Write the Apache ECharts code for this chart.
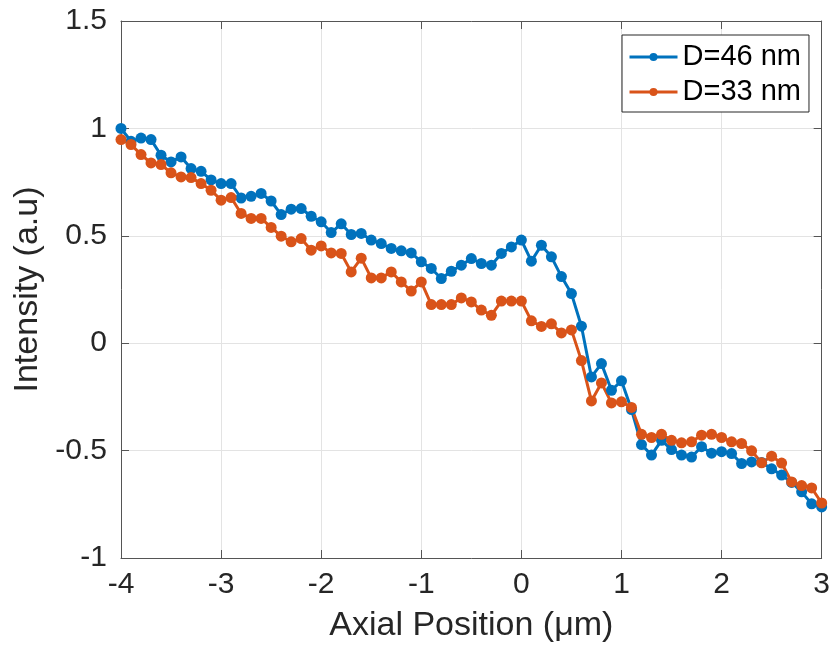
<!DOCTYPE html>
<html>
<head>
<meta charset="utf-8">
<script src="https://cdn.jsdelivr.net/npm/echarts@6/dist/echarts.min.js"></script>
<style>
  html, body { margin: 0; padding: 0; background: #fff; }
  #chart { width: 833px; height: 651px; }
</style>
</head>
<body>
<div id="chart"></div>
<script>
// axial position (um)
var positions = [
  -4.0, -3.9, -3.8, -3.7, -3.6, -3.5, -3.4, -3.3, -3.2, -3.1,
  -3.0, -2.9, -2.8, -2.7, -2.6, -2.5, -2.4, -2.3, -2.2, -2.1,
  -2.0, -1.9, -1.8, -1.7, -1.6, -1.5, -1.4, -1.3, -1.2, -1.1,
  -1.0, -0.9, -0.8, -0.7, -0.6, -0.5, -0.4, -0.3, -0.2, -0.1,
   0.0,  0.1,  0.2,  0.3,  0.4,  0.5,  0.6,  0.7,  0.8,  0.9,
   1.0,  1.1,  1.2,  1.3,  1.4,  1.5,  1.6,  1.7,  1.8,  1.9,
   2.0,  2.1,  2.2,  2.3,  2.4,  2.5,  2.6,  2.7,  2.8,  2.9,
   3.0
];

// D=46 nm
var d46 = [
  1.00, 0.94, 0.955, 0.948, 0.875, 0.844, 0.867, 0.813, 0.80, 0.76,
  0.743, 0.743, 0.676, 0.684, 0.697, 0.662, 0.599, 0.624, 0.627, 0.591,
  0.565, 0.515, 0.556, 0.506, 0.511, 0.480, 0.464, 0.441, 0.430, 0.420,
  0.379, 0.348, 0.301, 0.335, 0.363, 0.394, 0.371, 0.363, 0.418, 0.448,
  0.480, 0.382, 0.456, 0.402, 0.310, 0.231, 0.079, -0.157, -0.095, -0.219,
  -0.175, -0.309, -0.472, -0.521, -0.452, -0.495, -0.521, -0.530, -0.482, -0.512,
  -0.505, -0.514, -0.560, -0.553, -0.555, -0.585, -0.614, -0.648, -0.692, -0.748,
  -0.762
];

// D=33 nm
var d33 = [
  0.948, 0.925, 0.878, 0.839, 0.832, 0.793, 0.774, 0.771, 0.743, 0.712,
  0.666, 0.678, 0.604, 0.581, 0.581, 0.539, 0.498, 0.472, 0.487, 0.433,
  0.453, 0.420, 0.418, 0.332, 0.396, 0.304, 0.304, 0.332, 0.285, 0.243,
  0.285, 0.180, 0.180, 0.180, 0.211, 0.192, 0.154, 0.130, 0.196, 0.196,
  0.196, 0.104, 0.078, 0.090, 0.048, 0.062, -0.081, -0.269, -0.185, -0.278,
  -0.273, -0.299, -0.424, -0.439, -0.424, -0.452, -0.464, -0.459, -0.428, -0.424,
  -0.439, -0.459, -0.467, -0.501, -0.557, -0.526, -0.558, -0.646, -0.663, -0.674,
  -0.744
];

var seriesNames = ["D=46 nm", "D=33 nm"];
var seriesColors = ["#0072BD", "#D95319"];

function pairs(ys) {
  return positions.map(function (x, i) { return [x, ys[i]]; });
}

var font = "'Liberation Sans', Arial, Helvetica, sans-serif";
var ink = "#262626";

var chart = echarts.init(document.getElementById("chart"));

// top / right axes only draw the box and the mirrored ticks
function boxAxis(pos, min, max, interval) {
  return {
    type: "value",
    position: pos,
    min: min,
    max: max,
    interval: interval,
    axisLine: { show: true, onZero: false, lineStyle: { color: "#555", width: 1 } },
    axisTick: { show: true, inside: true, length: 8, lineStyle: { color: "#555" } },
    axisLabel: { show: false },
    splitLine: { show: false }
  };
}

chart.setOption({
  animation: false,
  backgroundColor: "#fff",
  grid: { left: 121, top: 21, width: 703, height: 537, containLabel: false },
  legend: {
    orient: "vertical",
    left: 622,
    top: 35,
    padding: [7, 8, 5, 6],
    itemGap: 5,
    itemWidth: 48,
    itemHeight: 10,
    borderColor: ink,
    borderWidth: 1,
    backgroundColor: "#fff",
    lineStyle: { width: 3 },
    textStyle: { fontFamily: font, fontSize: 29, color: "#000", lineHeight: 30 },
    data: seriesNames
  },
  xAxis: [
    {
      type: "value",
      min: -4,
      max: 3,
      interval: 1,
      name: "Axial Position (\u03bcm)",
      nameLocation: "middle",
      nameGap: 51,
      nameTextStyle: { fontFamily: font, fontSize: 34, color: ink },
      axisLine: { show: true, onZero: false, lineStyle: { color: "#555", width: 1 } },
      axisTick: { show: true, inside: true, length: 8, lineStyle: { color: "#555" } },
      axisLabel: { fontFamily: font, fontSize: 30, color: ink, margin: 12 },
      splitLine: { show: true, lineStyle: { color: "#e3e3e3", width: 1 } }
    },
    boxAxis("top", -4, 3, 1)
  ],
  yAxis: [
    {
      type: "value",
      min: -1,
      max: 1.5,
      interval: 0.5,
      name: "Intensity (a.u)",
      nameLocation: "middle",
      nameGap: 74,
      nameTextStyle: { fontFamily: font, fontSize: 34, color: ink },
      axisLine: { show: true, onZero: false, lineStyle: { color: "#555", width: 1 } },
      axisTick: { show: true, inside: true, length: 8, lineStyle: { color: "#555" } },
      axisLabel: { fontFamily: font, fontSize: 30, color: ink, margin: 14 },
      splitLine: { show: true, lineStyle: { color: "#e3e3e3", width: 1 } }
    },
    boxAxis("right", -1, 1.5, 0.5)
  ],
  series: [d46, d33].map(function (ys, k) {
    return {
      name: seriesNames[k],
      type: "line",
      xAxisIndex: 0,
      yAxisIndex: 0,
      data: pairs(ys),
      symbol: "circle",
      symbolSize: 11,
      showAllSymbol: true,
      lineStyle: { color: seriesColors[k], width: 3 },
      itemStyle: { color: seriesColors[k] },
      emphasis: { disabled: true }
    };
  })
});
</script>
</body>
</html>
